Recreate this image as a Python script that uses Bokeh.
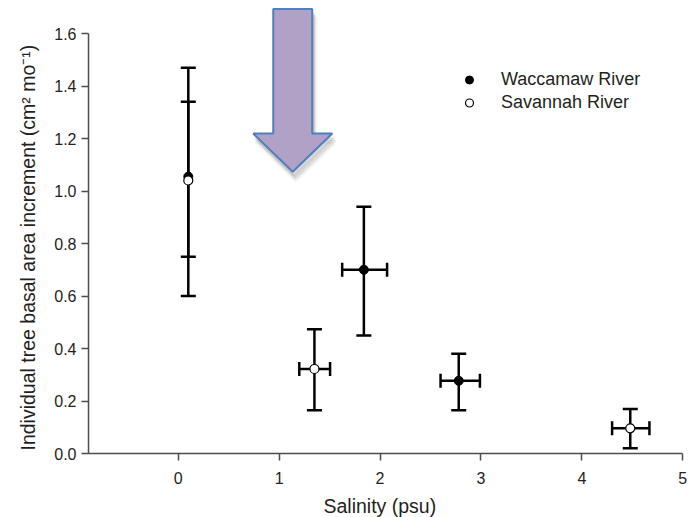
import numpy as np
from bokeh.plotting import figure
from bokeh.models import (ColumnDataSource, Whisker, TeeHead, Legend, LegendItem,
                          FixedTicker, Range1d, CustomJSTickFormatter, Title)
from bokeh.embed import file_html
from bokeh.resources import INLINE

# Mean basal area increment by site salinity, with SE bars
wac_salinity = [0.10, 1.84, 2.78]
wac_sal_lo = [np.nan, 1.625, 2.60]
wac_sal_hi = [np.nan, 2.07, 2.99]
wac_bai = [1.055, 0.70, 0.277]
wac_bai_lo = [0.60, 0.45, 0.165]
wac_bai_hi = [1.47, 0.94, 0.38]

sav_salinity = [0.10, 1.35, 4.48]
sav_sal_lo = [np.nan, 1.20, 4.30]
sav_sal_hi = [np.nan, 1.505, 4.67]
sav_bai = [1.04, 0.322, 0.096]
sav_bai_lo = [0.75, 0.165, 0.02]
sav_bai_hi = [1.34, 0.473, 0.17]

x_ticks = [0, 1, 2, 3, 4, 5]
y_ticks = [0.0, 0.2, 0.4, 0.6, 0.8, 1.0, 1.2, 1.4, 1.6]
x_title = "Salinity (psu)"
y_title = "Individual tree basal area increment (cm\u00b2 mo\u207b\u00b9)"

FONT = "Liberation Sans"
INK = "#231f20"
X0, X1 = -0.889, 5.067

p = figure(width=689, height=517, output_backend="svg", toolbar_location=None,
           x_range=Range1d(X0, X1), y_range=Range1d(0, 1.7067),
           min_border_left=88, min_border_right=0, min_border_top=5, min_border_bottom=64)
p.outline_line_color = None
p.grid.visible = False
p.background_fill_color = "white"
p.border_fill_color = "white"

for ax in (p.xaxis[0], p.yaxis[0]):
    ax.axis_line_color = "#4d4d4d"
    ax.axis_line_width = 1.5
    ax.major_tick_line_color = "#4d4d4d"
    ax.major_tick_line_width = 1.5
    ax.major_tick_out = 7
    ax.major_tick_in = 0
    ax.minor_tick_line_color = None
    ax.major_label_text_font = FONT
    ax.major_label_text_font_size = "16px"
    ax.major_label_text_color = INK

p.xaxis.ticker = FixedTicker(ticks=x_ticks)
p.yaxis.ticker = FixedTicker(ticks=y_ticks)
p.yaxis.formatter = CustomJSTickFormatter(code="return tick.toFixed(1);")
p.xaxis.bounds = (X0, 5)
p.yaxis.bounds = (0, 1.6)
p.xaxis.major_label_standoff = 11
p.yaxis.major_label_standoff = 5

# Axis titles as side-panel titles so they can be placed along the axes
p.add_layout(Title(text=" ", text_font_size="1px", standoff=4), "below")  # gap under tick labels
p.add_layout(Title(text=x_title, align="left", offset=235, vertical_align="middle",
                   standoff=0, text_font=FONT, text_font_size="19.5px",
                   text_font_style="normal", text_color=INK), "below")
p.add_layout(Title(text=y_title, align="left", offset=3, vertical_align="top",
                   standoff=22, text_font=FONT, text_font_size="19.5px",
                   text_font_style="normal", text_color=INK), "left")

# Arrow marking the salinity threshold (annotation, in data units)
ax0, shaft_half, head_half = 1.135, 0.193, 0.392
a_top, a_neck, a_tip = 1.693, 1.219, 1.073
arrow_x = [ax0 - shaft_half, ax0 + shaft_half, ax0 + shaft_half, ax0 + head_half,
           ax0, ax0 - head_half, ax0 - shaft_half]
arrow_y = [a_top, a_top, a_neck, a_neck, a_tip, a_neck, a_neck]
for k, alpha in [(4, 0.05), (3, 0.07), (2, 0.09)]:
    dx = k * 0.008
    dy = k * 0.008
    p.patch([v + dx for v in arrow_x], [v - dy for v in arrow_y],
            fill_color="#444444", fill_alpha=alpha, line_color="#444444",
            line_alpha=alpha, line_width=k)
p.patch(arrow_x, arrow_y, fill_color="#b1a1c7", line_color="#4f7fbd", line_width=2)


def add_series(xs, xlo, xhi, ys, ylo, yhi):
    xs = np.array(xs); xlo = np.array(xlo); xhi = np.array(xhi)
    src = ColumnDataSource(dict(x=xs, y=ys, lo=ylo, hi=yhi))
    has_x = ~np.isnan(xlo)
    xsrc = ColumnDataSource(dict(y=np.array(ys)[has_x], lo=xlo[has_x], hi=xhi[has_x]))
    vw = Whisker(base="x", lower="lo", upper="hi", source=src, dimension="height",
                 line_color="black", line_width=2.5,
                 upper_head=TeeHead(size=15, line_width=2.5, line_color="black"),
                 lower_head=TeeHead(size=15, line_width=2.5, line_color="black"))
    hw = Whisker(base="y", lower="lo", upper="hi", source=xsrc, dimension="width",
                 line_color="black", line_width=2.5,
                 upper_head=TeeHead(size=14, line_width=2.5, line_color="black"),
                 lower_head=TeeHead(size=14, line_width=2.5, line_color="black"))
    p.add_layout(vw)
    p.add_layout(hw)
    return src


wsrc = add_series(wac_salinity, wac_sal_lo, wac_sal_hi, wac_bai, wac_bai_lo, wac_bai_hi)
ssrc = add_series(sav_salinity, sav_sal_lo, sav_sal_hi, sav_bai, sav_bai_lo, sav_bai_hi)
r_w = p.scatter("x", "y", source=wsrc, marker="circle", size=9,
                fill_color="black", line_color="black", line_width=1)
r_s = p.scatter("x", "y", source=ssrc, marker="circle", size=9,
                fill_color="white", line_color="black", line_width=1.2)

legend = Legend(items=[LegendItem(label="Waccamaw River", renderers=[r_w]),
                       LegendItem(label="Savannah River", renderers=[r_s])],
                location=(371, 339), orientation="vertical",
                glyph_width=20, glyph_height=23, label_height=23, spacing=0,
                label_standoff=22, padding=0, margin=0,
                border_line_color=None, background_fill_alpha=0,
                label_text_font=FONT, label_text_font_size="18px", label_text_color=INK)
p.add_layout(legend)

open("out.html", "w").write(file_html(p, INLINE))
